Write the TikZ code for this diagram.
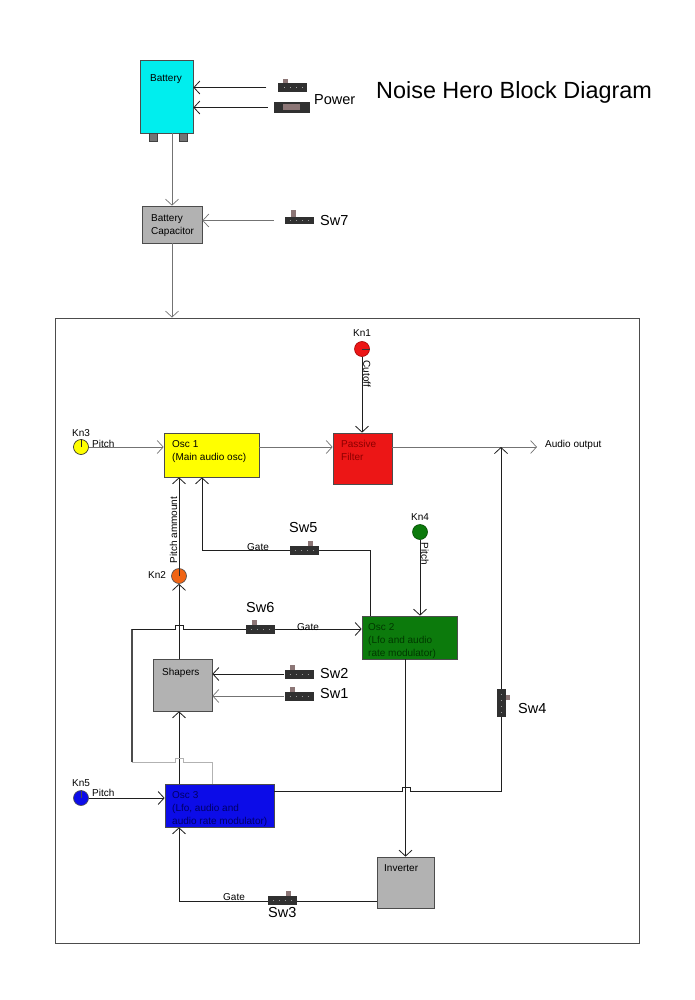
\documentclass[tikz,border=0pt]{standalone}
\usepackage{fontspec}
\setmainfont{Liberation Sans}
\usetikzlibrary{arrows.meta}
\definecolor{bcyan}{RGB}{0,238,238}
\definecolor{byellow}{RGB}{255,255,0}
\definecolor{bred}{RGB}{236,22,22}
\definecolor{bgreen}{RGB}{12,122,12}
\definecolor{bblue}{RGB}{12,12,232}
\definecolor{bgrey}{RGB}{178,178,178}
\definecolor{korange}{RGB}{240,100,20}
\definecolor{swdark}{RGB}{48,48,48}
\definecolor{tabc}{RGB}{140,118,118}
\begin{document}
\begin{tikzpicture}[x=1pt,y=-1pt,
  small/.style={font=\fontsize{10}{13}\selectfont, inner sep=0pt},
  big/.style={font=\fontsize{14.5}{17}\selectfont, inner sep=0pt},
  block/.style={rectangle, draw=black!70, line width=0.7pt, inner sep=0pt},
  btext/.style={small, anchor=north west, align=left},
  wire/.style={draw=black!88, line width=0.8pt},
  gwire/.style={draw=black!55, line width=0.7pt},
  lgwire/.style={draw=black!30, line width=0.8pt},
  arr/.style={-{Straight Barb[length=6pt,width=13pt]}},
  swh/.style={rectangle, fill=swdark, minimum width=29pt, minimum height=9pt, inner sep=0pt,
    path picture={\draw[black!40, line width=0.6pt, dash pattern=on 1pt off 5pt]
      ([xshift=5pt]path picture bounding box.west) -- (path picture bounding box.east);}},
  swv/.style={rectangle, fill=swdark, minimum width=9pt, minimum height=28pt, inner sep=0pt,
    path picture={\draw[black!40, line width=0.6pt, dash pattern=on 1pt off 5pt]
      ([yshift=-5pt]path picture bounding box.north) -- (path picture bounding box.south);}},
  knob/.style={circle, minimum size=15pt, inner sep=0pt, line width=0.6pt},
]
\useasboundingbox (0,0) rectangle (694,1000);

% title
\node[font=\fontsize{23.4}{27}\selectfont, inner sep=0pt, anchor=base west] (title) at (376,98.4) {Noise Hero Block Diagram};

% outer frame
\node[rectangle, draw=black!70, line width=0.9pt, minimum width=584pt, minimum height=625pt, inner sep=0pt] (frame) at (347,630.5) {};

% blocks
\node[block, fill=bcyan, minimum width=53pt, minimum height=73pt] (bat) at (166.5,96.5) {};
\node[btext] at (150,74.4) {Battery};
\fill[black!55] (149,133) rectangle (157,141);
\fill[black!55] (179,133) rectangle (187,141);
\draw[black!75, line width=0.5pt] (149,133) rectangle (157,141) (179,133) rectangle (187,141);

\node[block, fill=bgrey, minimum width=60pt, minimum height=37pt] (cap) at (172,224.5) {};
\node[btext] at (151,214.4) {Battery\\Capacitor};

\node[block, fill=byellow, minimum width=95pt, minimum height=44pt] (osc1) at (211.5,455) {};
\node[btext] at (172,440.4) {Osc 1\\(Main audio osc)};

\node[block, fill=bred, minimum width=59pt, minimum height=51pt] (filt) at (362.5,458.5) {};
\node[btext, text=red!55!black] at (341,440.4) {Passive\\Filter};

\node[block, fill=bgreen, minimum width=95pt, minimum height=43pt] (osc2) at (409.5,637.5) {};
\node[btext, text=green!22!black] at (368,623.4) {Osc 2\\(Lfo and audio\\rate modulator)};

\node[block, fill=bgrey, minimum width=59pt, minimum height=52pt] (shp) at (182.5,685) {};
\node[btext] at (162,668.4) {Shapers};

\node[block, fill=bblue, minimum width=109pt, minimum height=43pt] (osc3) at (219.5,805.5) {};
\node[btext, text=blue!40!black] at (172,791.4) {Osc 3\\(Lfo, audio and\\audio rate modulator)};

\node[block, fill=bgrey, minimum width=57pt, minimum height=51pt] (inv) at (405.5,882.5) {};
\node[btext] at (384,864.4) {Inverter};

% knobs
\node[knob, fill=bred, draw=red!65!black] (kn1) at (362,349) {};
\draw[black!80, line width=0.6pt] (kn1.center) -- (kn1.east);
\node[small, anchor=base] at (362,336.6) {Kn1};

\node[knob, fill=byellow, draw=black!85] (kn3) at (81,447) {};
\draw[black!85, line width=0.7pt] (kn3.center) -- (kn3.north);
\node[small, anchor=base west] at (72,436.6) {Kn3};
\node[small, anchor=base west] at (92,447.6) {Pitch};

\node[knob, fill=korange, draw=black!70] (kn2) at (179,576) {};
\draw[black!85, line width=0.7pt] (kn2.center) -- (kn2.north);
\node[small, anchor=base west] at (148,578.6) {Kn2};

\node[knob, fill=bgreen, draw=green!30!black] (kn4) at (420,532) {};
\node[small, anchor=base] at (420,520.6) {Kn4};

\node[knob, fill=bblue, draw=black!70] (kn5) at (81,798) {};
\draw[black!70, line width=0.5pt] (kn5.center) -- (kn5.north);
\node[small, anchor=base west] at (72,786.6) {Kn5};
\node[small, anchor=base west] at (92,796.6) {Pitch};

% named bend coordinates
\coordinate (b5r) at (370,550);
\coordinate (b5l) at (202,550);
\coordinate (t3) at (212,762);
\coordinate (lb) at (132,762);
\coordinate (lt) at (132,629);
\coordinate (c4) at (501,791);
\coordinate (c3) at (179,901);
\coordinate (aout) at (537,447);

% wires
\draw[gwire,arr] (bat.south -| cap.north) -- (cap.north);
\draw[gwire,arr] (cap.south) -- (cap.south |- frame.north);
\draw[gwire,arr] (kn3.east) -- (kn3 -| osc1.west);
\draw[gwire,arr] (osc1.east |- kn3) -- (filt.west |- kn3);
\draw[gwire,arr] (filt.east |- kn3) -- (aout);
\draw[wire,arr] (kn1.south) -- (kn1.south |- filt.north);
\draw[wire,arr] (kn4.south) -- (kn4.south |- osc2.north);
\draw[wire,arr] (b5r |- osc2.north) -- (b5r) -- (b5l) -- (b5l |- osc1.south);
\draw[wire,arr] (kn2.north) -- (kn2.north |- osc1.south);
\draw[wire,arr] (kn2 |- shp.north) -- (kn2.south);
\draw[wire,arr] (kn2 |- osc3.north) -- (kn2 |- shp.south);
\draw[lgwire] (t3 |- osc3.north) -- (t3) -- (183,762) -- (183,758.5) -- (175,758.5) -- (175,762) -- (lb);
\draw[draw=black!70, line width=1.3pt] (lb) -- (lt);
\draw[wire,arr] (lt) -- (175,629) -- (175,625.5) -- (183,625.5) -- (183,629) -- (lt -| osc2.west);
\draw[wire,arr] (kn5.east) -- (kn5 -| osc3.west);
\draw[wire,arr] (c4 -| osc3.east) -- (402,791) -- (402,787.5) -- (410,787.5) -- (410,791) -- (c4) -- (c4 |- kn3);
\draw[wire,arr] (inv.north |- osc2.south) -- (inv.north);
\draw[wire,arr] (c3 -| inv.west) -- (c3) -- (c3 |- osc3.south);

% switches
\node[rectangle, fill=swdark, minimum width=29pt, minimum height=9pt, inner sep=0pt] (pw1) at (292,87.5) {};
\fill[tabc] (283,79) rectangle (288,83);
\draw[black!35, line width=0.6pt, dash pattern=on 1pt off 5pt] (284,87.5) -- (306,87.5);
\node[rectangle, fill=swdark, minimum width=36pt, minimum height=11pt, inner sep=0pt] (pw2) at (292,107.5) {};
\fill[tabc] (283,104.5) rectangle (300,110);
\draw[wire,arr] ([xshift=-11pt]pw1.west) -- (pw1 -| bat.east);
\draw[wire,arr] ([xshift=-6pt]pw2.west) -- (pw2 -| bat.east);
\node[big, anchor=base west] (power) at (314,104.4) {Power};

\node[swh, minimum height=7pt] (sw7) at (299.5,220.5) {};
\fill[tabc] (291,210) rectangle (296,217);
\draw[gwire,arr] ([xshift=-11pt]sw7.west) -- (sw7 -| cap.east);
\node[big, anchor=base west] at (320,225.2) {Sw7};

\node[swh] (sw5) at (304.5,550) {};
\fill[tabc] (308,540.5) rectangle (313,545.5);
\node[big, anchor=base west] at (289,532.2) {Sw5};
\node[small, anchor=base west] at (247,550.6) {Gate};

\node[swh] (sw6) at (260.5,629.5) {};
\fill[tabc] (252,620) rectangle (257,625);
\node[big, anchor=base west] at (246,612.2) {Sw6};
\node[small, anchor=base west] at (297,630.6) {Gate};

\node[swh] (sw2) at (299,674) {};
\fill[tabc] (290,664.5) rectangle (295,669.5);
\node[swh] (sw1) at (299,696) {};
\fill[tabc] (290,686.5) rectangle (295,691.5);
\draw[wire,arr] (sw2.west) -- (sw2 -| shp.east);
\draw[gwire,arr] (sw1.west) -- (sw1 -| shp.east);
\node[big, anchor=base west] at (320,678.2) {Sw2};
\node[big, anchor=base west] at (320,698.2) {Sw1};

\node[swv] (sw4) at (501,703) {};
\fill[tabc] (505.5,695) rectangle (510,700);
\node[big, anchor=base west] at (518,713.2) {Sw4};

\node[swh] (sw3) at (282.5,900) {};
\fill[tabc] (286,890.5) rectangle (291,895.5);
\node[big, anchor=base west] at (268,917.2) {Sw3};
\node[small, anchor=base west] at (223,900.6) {Gate};

% rotated labels
\node[small, rotate=-90] at (367,374) {Cutoff};
\node[small, rotate=-90] at (425,554) {Pitch};
\node[small, rotate=90] at (173.5,530) {Pitch ammount};

\node[small, anchor=base west] at (545,447.6) {Audio output};
\end{tikzpicture}
\end{document}
